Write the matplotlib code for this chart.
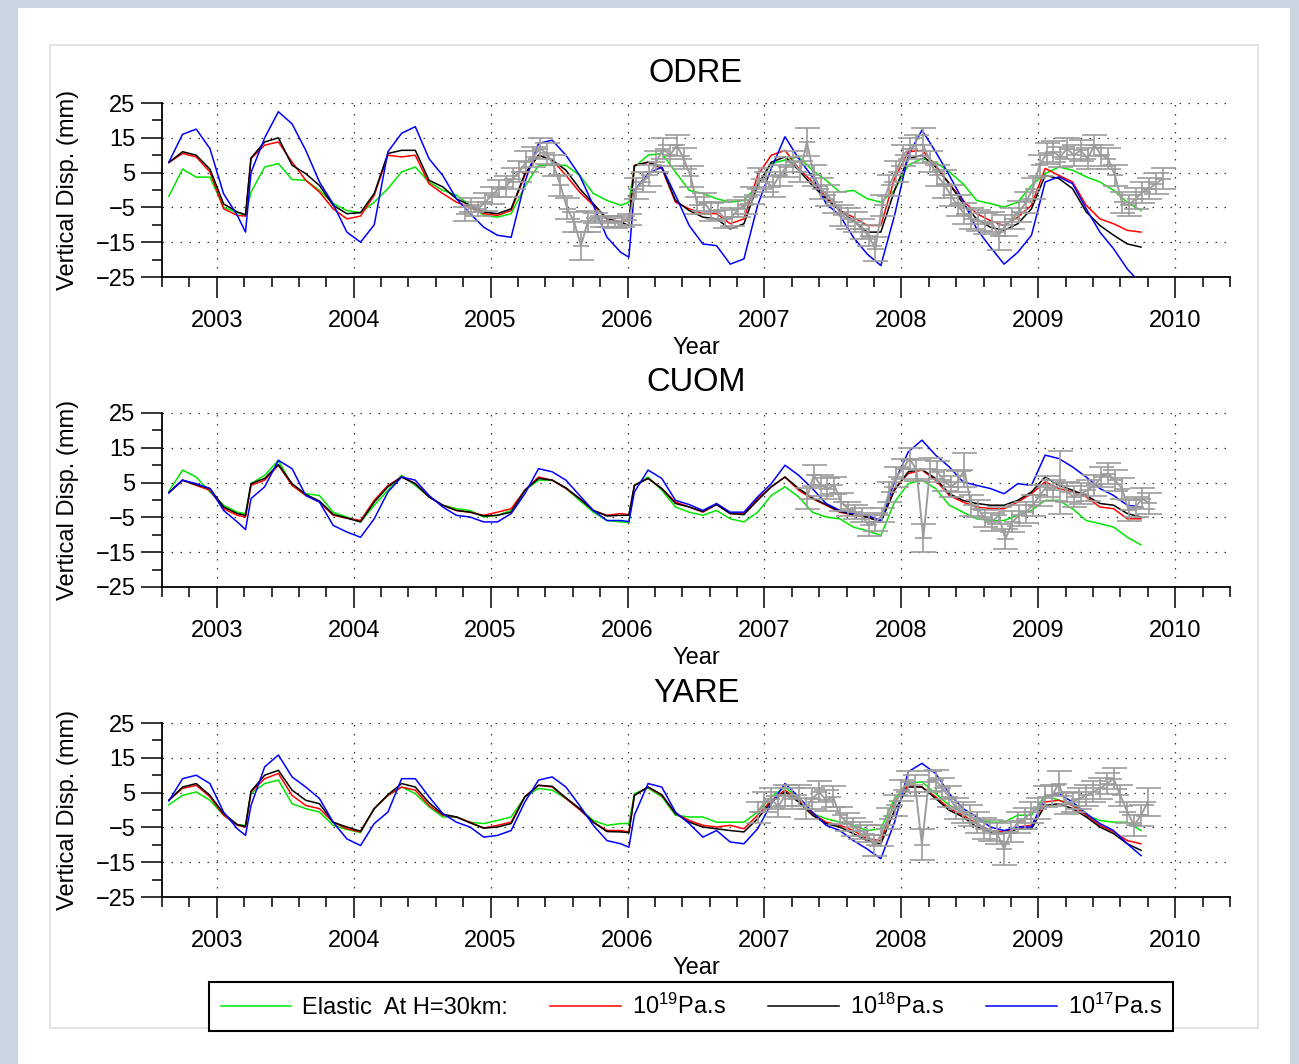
import numpy as np
import matplotlib
matplotlib.use('Agg')
import matplotlib.pyplot as plt
from matplotlib.ticker import MultipleLocator, FixedLocator
from matplotlib.patches import Rectangle

plt.rcParams['font.family'] = ['Liberation Sans', 'DejaVu Sans']
plt.rcParams['mathtext.fontset'] = 'custom'
plt.rcParams['mathtext.rm'] = 'Liberation Sans'
plt.rcParams['mathtext.it'] = 'Liberation Sans:italic'
plt.rcParams['mathtext.bf'] = 'Liberation Sans:bold'

# ---------------- data ----------------
t = [2002.65, 2002.75, 2002.85, 2002.95,
     2003.05, 2003.15, 2003.21, 2003.25, 2003.35, 2003.45, 2003.55, 2003.65, 2003.75, 2003.85, 2003.95,
     2004.05, 2004.15, 2004.25, 2004.35, 2004.45, 2004.55, 2004.65, 2004.75, 2004.85, 2004.95,
     2005.05, 2005.15, 2005.25, 2005.35, 2005.45, 2005.55, 2005.65, 2005.75, 2005.85, 2005.95,
     2006.01, 2006.05, 2006.15, 2006.25, 2006.35, 2006.45, 2006.55, 2006.65, 2006.75, 2006.85, 2006.95,
     2007.05, 2007.15, 2007.25, 2007.35, 2007.45, 2007.55, 2007.65, 2007.75, 2007.85, 2007.95,
     2008.05, 2008.15, 2008.25, 2008.35, 2008.45, 2008.55, 2008.65, 2008.75, 2008.85, 2008.95,
     2009.05, 2009.15, 2009.25, 2009.35, 2009.45, 2009.55, 2009.65, 2009.75]

stations = ['ODRE', 'CUOM', 'YARE']
legend_labels = ['Elastic  At H=30km:', r'10$^{19}$Pa.s', r'10$^{18}$Pa.s', r'10$^{17}$Pa.s']
years = [2003, 2004, 2005, 2006, 2007, 2008, 2009, 2010]
yticks = [-25, -15, -5, 5, 15, 25]

# ODRE
odre_elastic = [-1.8, 6, 3.7, 3.7,
                -5, -6.5, -7.3, -0.6, 6.6, 7.6, 3, 2.8, -0.1, -3.9, -5.9,
                -6.5, -3.5, 0.4, 5.2, 6.6, 2.3, -0.1, -1.5, -4.4, -7.3,
                -7.8, -6.8, 1, 7.1, 7.1, 7.1, 4.2, -1, -3, -4.4,
                -3.5, 6.6, 10, 10.5, 5.2, -0.1, -1, -2.5, -3.5, -3, 1.3,
                7.6, 8.6, 9.5, 5.7, 2.8, -0.6, -0.1, -2.5, -3.5, -0.1,
                7.1, 9, 8, 5.2, 1.8, -3, -3.9, -4.9, -3.5, 1.3,
                4.7, 6.6, 5.7, 3.8, 2.3, -0.1, -3.5, -5.9]
odre_e19 = [7.9, 10.5, 9.5, 5.2,
            -5.4, -7.3, -7.5, 9, 12.9, 13.8, 8, 2.8, -0.6, -5.4, -8.3,
            -7.5, -1.5, 10, 9.5, 10, 1.8, -1, -3.5, -4.9, -6.8,
            -7.3, -5.9, 4.2, 10, 8.6, 4.2, -0.6, -4.4, -8.3, -9.2,
            -8.8, 7.1, 8, 6.2, -3.5, -5.4, -6.8, -6.8, -9.7, -8.3, 4.2,
            10, 11.4, 6.2, 2.3, -2, -5.9, -7.8, -10.2, -10.2, 3.3,
            11, 11.4, 7.1, 1.8, -3, -6.8, -8.8, -10.2, -7.8, -4.4,
            6.2, 4.2, 2.3, -4.4, -8.3, -9.7, -11.6, -12.1]
odre_e18 = [7.9, 11, 10, 6,
            -4, -6.3, -7.1, 9.2, 13.8, 15, 7.1, 4.7, 1.3, -4.4, -6.8,
            -6.5, -1, 10.5, 11.4, 11.4, 2.8, 0.9, -2.5, -4.4, -6.3,
            -6.8, -5.4, 4.7, 10, 8.6, 5.7, 0.4, -3.9, -8.3, -9.2,
            -10.2, 7, 8, 6.6, -3, -5.9, -7.8, -8.3, -11.2, -9.7, 1.3,
            8, 9.5, 5.7, 1.3, -2.5, -5.9, -8.8, -12.1, -12.1, -0.1,
            9, 10, 6.6, 1.8, -3.9, -8.3, -10.7, -11.6, -9.7, -5.4,
            4.2, 3.3, 0.4, -6.3, -10.2, -13, -15.5, -16.4]
odre_e17 = [8, 16, 17.5, 11.9,
            -1.1, -7.3, -12.1, 5, 15, 22.5, 19, 11.4, 2.3, -4, -12.1,
            -15, -10, 11, 16.3, 18.2, 9, 4.2, -2.5, -6.8, -10.7,
            -13, -13.6, 2.3, 13.4, 14.3, 10, 4.2, -4.4, -13.6, -17.9,
            -19.3, 0, 4.7, 6.6, -1.5, -10.2, -15.5, -16, -21.3, -19.8, -4.4,
            6.2, 15.3, 9, 3.8, -3.9, -7.3, -13.6, -18.4, -21.7, -7.3,
            10, 17.2, 11, 4.2, -3, -11.2, -16.4, -21.3, -17.9, -13,
            2.3, 3.8, 1.8, -5.4, -12.1, -16.9, -22.7, -27]

# CUOM
cuom_elastic = [2.5, 8.6, 6.6, 2.3,
                -1.5, -3.5, -3.9, 4.7, 7.1, 11.4, 4.2, 1.8, 1.3, -3.5, -4.9,
                -6.3, -1.5, 2.8, 7.1, 4.2, 0.9, -1.5, -2.5, -3, -4.9,
                -4.4, -3, 2.8, 5.7, 5.7, 3.3, -0.1, -3.5, -5.9, -6.3,
                -6.5, 4.2, 6.6, 2.8, -2, -3.5, -4.4, -3, -5.4, -6.3, -3.5,
                1.3, 3.8, 0.9, -3.5, -4.9, -5.4, -7.8, -8.8, -10.2, -0.6,
                4.7, 5.7, 3.3, -1.5, -3.5, -5.4, -5.9, -5.9, -4.4, -3,
                -0.1, -0.1, -2.5, -5.9, -6.8, -7.8, -10.7, -12.9]
cuom_e19 = [2.1, 5.7, 4.2, 2.8,
            -2.5, -4.4, -4.9, 4.2, 5.7, 10, 4.2, 1.3, -0.6, -4.4, -5.2,
            -5.9, -0.1, 4.2, 6.6, 4.7, 0.9, -1.5, -3, -3.5, -4.4,
            -3.5, -2.5, 2.8, 6.6, 5.7, 3.3, 0.4, -3, -4.4, -3.9,
            -4.2, 4.2, 6.2, 3.3, -0.6, -2, -3.5, -1.3, -3.9, -3.9, 0.4,
            3.8, 6.6, 2.8, 0.4, -1.5, -3.5, -4.4, -4.9, -6.3, 3.3,
            7.6, 8.6, 5.7, 1.3, -0.6, -2, -2.5, -2.5, -0.6, 1.8,
            5.2, 3.3, 2.3, 0.9, -2, -2.5, -5.4, -5.4]
cuom_e18 = [2.1, 5.7, 4.4, 3.3,
            -2, -3.9, -4.4, 4.7, 6.2, 10.2, 4.7, 1.6, -0.3, -4.1, -5.2,
            -6.3, -0.6, 3.8, 6.6, 4.7, 0.9, -1.5, -3, -3.5, -4.6,
            -4.4, -3.5, 2.8, 6.2, 5.7, 3.5, 0.4, -3, -4.6, -4.4,
            -4.4, 4.2, 6.2, 3.3, -1, -2, -3.3, -1.3, -3.9, -4.2, -0.1,
            3.8, 6.6, 3.3, 0.6, -1.3, -3.3, -4.2, -4.9, -6.3, 2.8,
            8.1, 8.8, 6.2, 1.8, -0.1, -1, -1.5, -1.5, -0.1, 2.3,
            6.6, 4.2, 2.8, 1.3, -1, -1.5, -3.9, -4.9]
cuom_e17 = [2.1, 5.7, 4.7, 3.3,
            -3, -6.3, -8.5, 0.4, 3.8, 11.4, 9, 1.3, -0.6, -7.3, -9.2,
            -10.7, -5.4, 2.3, 6.6, 5.7, 1.3, -2, -4.4, -4.9, -6.3,
            -6.3, -3.9, 1.8, 9, 8.1, 5.7, 1.3, -3, -5.9, -5.9,
            -6.2, 2.3, 8.6, 6.2, -0.1, -1.3, -3, -1, -3.5, -3.5, 0.9,
            4.7, 10, 7.1, 3.3, -1, -3, -3.9, -4.4, -5.9, 5.2,
            13.8, 17.2, 12.9, 9.5, 5.2, 4.2, 3.3, 1.8, 4.7, 4.2,
            12.9, 11.9, 9.5, 6.6, 3.3, 1.3, -1.5, -2]

# YARE
yare_elastic = [1.5, 4.2, 5.2, 2.8,
                -1.5, -4.2, -4.4, 4.7, 7.6, 8.6, 1.8, 0.4, -0.6, -4.4, -5.6,
                -6.5, 0.4, 4.2, 6.6, 4.7, 0.9, -2, -2, -3.5, -3.9,
                -3, -2, 3.8, 6.2, 5.7, 3.3, 0.4, -3, -4.4, -3.9,
                -3.9, 4.7, 6.3, 3.8, -1.5, -2, -2, -3.5, -3.5, -3.5, -0.6,
                3.8, 6.6, 3.3, -1, -2.5, -3.5, -4.4, -5.9, -5.4, 3.3,
                7.6, 8.1, 4.7, 1.3, -0.6, -3, -3.5, -3.5, -1.5, -1.5,
                4.2, 2.8, 1.8, -1.5, -3, -3.5, -3.5, -5.9]
yare_e19 = [2.8, 6.2, 7.1, 3.8,
            -1.5, -4.4, -4.9, 5.2, 9, 10.5, 4.2, 1.3, 0.4, -3.5, -5.4,
            -6.3, 0.4, 4.2, 6.6, 5.7, 1.3, -1.5, -2, -3.5, -5.2,
            -4.4, -3.5, 3.8, 7.1, 6.6, 3.3, 0.1, -3.5, -5.9, -5.9,
            -6.3, 4.2, 6.6, 4.2, -1, -3, -4.4, -4.9, -4.4, -5.4, -1.5,
            2.8, 5.7, 2.8, -1, -3.5, -4.4, -5.9, -8.3, -8.8, 2.3,
            7.1, 6.6, 3.8, 0.4, -1.5, -3.9, -5.9, -6.3, -4.9, -4.4,
            2.3, 2.8, 1.3, -1.5, -4.4, -6.3, -8.8, -9.7]
yare_e18 = [2.8, 6.6, 7.6, 4.2,
            -1, -4.2, -4.7, 5.4, 10, 11.4, 5.7, 2.8, 1.8, -3.5, -4.9,
            -6.1, 0.4, 4.4, 7.6, 6.6, 2.1, -1.2, -2, -3.7, -5.2,
            -4.9, -3.9, 3.8, 7.1, 6.8, 3.5, 0.4, -3.5, -6.2, -6.3,
            -6.5, 4.2, 6.6, 4.4, -1, -3.5, -4.9, -5.4, -5.9, -6.3, -2.5,
            2.3, 5.2, 2.3, -1.5, -3.9, -4.9, -6.8, -8.8, -9.7, -0.1,
            6.6, 6.6, 3.3, -0.1, -2, -4.9, -6.3, -6.8, -5.4, -5.4,
            1.3, 1.8, 0.4, -2, -4.9, -6.8, -9.7, -11.6]
yare_e17 = [2.6, 9, 10, 7.6,
            -0.6, -5.4, -7.3, 1.3, 12.4, 15.8, 9.5, 6.6, 3.3, -3.5, -8.3,
            -10.2, -3.9, -0.6, 9, 9, 3.8, -1, -3.5, -4.9, -7.8,
            -7.3, -5.9, 2.3, 8.6, 9.5, 6.6, 1.3, -4.4, -8.8, -9.7,
            -10.7, -1.5, 7.6, 6.6, -0.6, -3.9, -7.8, -5.9, -9.2, -9.7, -5.4,
            1.8, 7.6, 3.8, -0.6, -4.4, -5.9, -8.8, -11.2, -14, -3.5,
            11, 13.4, 10.5, 4.7, 0.4, -2, -4.9, -5.9, -4.9, -4.9,
            3.8, 4.7, 2.3, -1, -3.9, -5.9, -9.7, -13.1]

# observed GPS (grey, with error bars)
odre_obs_t = [2004.81, 2004.86, 2004.91, 2004.96,
              2005.01, 2005.06, 2005.11, 2005.16, 2005.21, 2005.26, 2005.31, 2005.36, 2005.41, 2005.46,
              2005.51, 2005.56, 2005.61, 2005.66, 2005.71, 2005.76, 2005.81, 2005.86, 2005.91, 2005.96,
              2006.01, 2006.06, 2006.11, 2006.16, 2006.21, 2006.26, 2006.31, 2006.36, 2006.41, 2006.46,
              2006.51, 2006.56, 2006.61, 2006.66, 2006.71, 2006.76, 2006.81, 2006.86, 2006.91, 2006.96,
              2007.01, 2007.06, 2007.11, 2007.16, 2007.21, 2007.26, 2007.31, 2007.36, 2007.41, 2007.46,
              2007.51, 2007.56, 2007.61, 2007.66, 2007.71, 2007.76, 2007.81, 2007.86, 2007.91, 2007.96,
              2008.01, 2008.06, 2008.11, 2008.16, 2008.21, 2008.26, 2008.31, 2008.36, 2008.41, 2008.46,
              2008.51, 2008.56, 2008.61, 2008.66, 2008.71, 2008.76, 2008.81, 2008.86, 2008.91, 2008.96,
              2009.01, 2009.06, 2009.11, 2009.16, 2009.21, 2009.26, 2009.31, 2009.36, 2009.41, 2009.46,
              2009.51, 2009.56, 2009.61, 2009.66, 2009.71, 2009.76, 2009.81, 2009.86, 2009.91]
odre_obs = [-6.8, -4.4, -5.4, -3.5,
            -1.5, 0.4, 0.9, 3.3, 5.2, 8.1, 9.5, 11.9, 10.5, 7.1,
            1.3, -5.4, -9.2, -16, -9, -8, -9, -9, -9.5, -9,
            -8.5, 0.4, 2.3, 4.2, 8.1, 11.9, 10, 12.9, 9, 4,
            -4.4, -3.5, -6.3, -5.9, -8.3, -7.8, -5.4, -4.4, -1.5, 3.3,
            2.3, 0.9, 4.2, 6.6, 8.1, 5.2, 13.8, 4.2, 0.4, -1.5,
            -3.5, -7.3, -8.3, -9.2, -11.2, -13.1, -17, -4.4, 1.3, 5.2,
            10, 11.9, 12.9, 12.9, 8.1, 4.2, 1.8, -1.5, -4.4, -6.8,
            -8.3, -8.8, -9.7, -9.2, -13.1, -10.2, -8.3, -6.3, -3.5, 0.4,
            7.1, 10.5, 11, 9.5, 11.9, 10, 11.4, 9, 12.9, 10,
            9, 4.2, -3.5, -4.4, -2.5, -0.6, 0.4, 1.8, 3.3]
odre_obs_err = [2, 2, 2, 2.5,
                2.5, 2.5, 3, 3, 3, 3, 3, 3, 3, 3,
                3, 3, 3, 4, 3, 1.5, 1.5, 1.5, 1.5, 1.5,
                1.5, 3, 3, 3, 3, 3, 3, 3, 3, 3,
                2.5, 2.5, 2.5, 2.5, 2.5, 2.5, 2.5, 2.5, 2.5, 3,
                3, 3, 3, 3, 3, 3, 4, 3, 3, 3,
                3, 3, 3, 3, 3, 3, 3.5, 3, 3, 3,
                3, 3, 3, 5, 3, 3, 4, 3, 3, 3,
                3, 3, 3, 3, 4, 3, 3, 3, 3, 3,
                3, 3, 3, 3, 3, 3, 3, 3, 3, 3,
                3, 3, 3, 3, 3, 3, 3, 3, 3]

cuom_obs_t = [2007.31, 2007.36, 2007.41, 2007.46, 2007.51, 2007.56, 2007.61, 2007.66, 2007.71, 2007.76,
              2007.81, 2007.86, 2007.91, 2007.96,
              2008.01, 2008.06, 2008.11, 2008.16, 2008.21, 2008.26, 2008.31, 2008.36, 2008.41, 2008.46,
              2008.51, 2008.56, 2008.61, 2008.66, 2008.71, 2008.76, 2008.81, 2008.86, 2008.91, 2008.96,
              2009.01, 2009.06, 2009.11, 2009.16, 2009.21, 2009.26, 2009.31, 2009.36, 2009.41, 2009.46,
              2009.51, 2009.56, 2009.61, 2009.66, 2009.71, 2009.76, 2009.81]
cuom_obs = [0.4, 7.1, 4.2, 3.3, 4.2, -0.6, -2.5, -3.5, -4.4, -7.3,
            -6.3, -4.4, 2.3, 6.6,
            8.9, 11.9, 8.6, -11, 9, 8.1, 5.7, 3.8, 5.2, 8.6,
            -1.5, -2.5, -5.4, -6.3, -4.4, -11.2, -6.3, -4.4, -3.5, -1.5,
            1.3, 3.8, 2.8, 5, 2.3, 0.9, 1.8, 2.8, 4.2, 6.6,
            7.6, 5.7, 3.3, -3, -2, 0.4, -1]
cuom_obs_err = [3, 3, 3, 3, 2.5, 2.5, 2, 2, 2, 3,
                2.5, 2, 3, 3,
                3, 3, 3, 4, 3, 3, 3, 3, 3, 5,
                3, 2.5, 2.5, 2.5, 2.5, 3, 3, 3, 3, 3,
                3, 3, 3, 9, 3, 3, 3, 3, 3, 3,
                3, 3, 3, 3, 3, 3, 3]

yare_obs_t = [2006.95,
              2007.00, 2007.05, 2007.10, 2007.15, 2007.20, 2007.25, 2007.30, 2007.35, 2007.40, 2007.45,
              2007.50, 2007.55, 2007.60, 2007.65, 2007.70, 2007.75, 2007.80, 2007.85, 2007.90, 2007.95,
              2008.00, 2008.05, 2008.10, 2008.15, 2008.20, 2008.25, 2008.30, 2008.35, 2008.40, 2008.45,
              2008.50, 2008.55, 2008.60, 2008.65, 2008.70, 2008.75, 2008.80, 2008.85, 2008.90, 2008.95,
              2009.00, 2009.05, 2009.10, 2009.15, 2009.20, 2009.25, 2009.30, 2009.35, 2009.40, 2009.45,
              2009.50, 2009.55, 2009.60, 2009.65, 2009.70, 2009.75, 2009.80]
yare_obs = [-0.6,
            2.3, 3.3, 0.9, 4.2, 3.3, 4.2, 0.4, 3.3, 5.2, 2.8,
            3.8, -1.5, -3.5, -4.9, -5.9, -6.8, -10.2, -7.3, -2.5, 1.3,
            5.7, 8.1, 7.1, -10, 8.1, 8.6, 6.2, 3.8, 0.4, -0.6,
            -1.5, -3.5, -5.4, -5.9, -6.8, -11.2, -6.3, -3.5, -2.5, -0.6,
            0.4, 3.8, 4.2, 7.6, 1.8, 2.3, 3.3, 4.2, 5.2, 6.2,
            7.6, 9, 4.2, -0.6, -4.4, -1.5, 2.3]
yare_obs_err = [3,
                3, 3, 3, 3, 3, 3, 3, 3, 3, 3,
                3, 2.5, 2.5, 2.5, 2.5, 2.5, 3, 3, 3, 3,
                3, 3, 3, 4.5, 3, 3, 3, 3, 3, 3,
                3, 3, 3, 3, 3, 4.5, 3, 3, 3, 3,
                3, 3, 3, 3.5, 3, 3, 3, 3, 3, 3,
                3, 3, 3, 3, 3, 3, 4]

models = {
    'ODRE': (odre_elastic, odre_e19, odre_e18, odre_e17, odre_obs_t, odre_obs, odre_obs_err),
    'CUOM': (cuom_elastic, cuom_e19, cuom_e18, cuom_e17, cuom_obs_t, cuom_obs, cuom_obs_err),
    'YARE': (yare_elastic, yare_e19, yare_e18, yare_e17, yare_obs_t, yare_obs, yare_obs_err),
}

# ---------------- figure ----------------
W, H = 1299, 1064
fig = plt.figure(figsize=(W / 100, H / 100), dpi=100)
fig.patch.set_facecolor('#c9d6df')
fig.patches.append(Rectangle((18 / W, 0), 1272 / W, 1056 / H, transform=fig.transFigure,
                             facecolor='white', edgecolor='none', zorder=-10))
fig.patches.append(Rectangle((50 / W, 36 / H), 1208 / W, 983 / H, transform=fig.transFigure,
                             facecolor='white', edgecolor='#dedede', lw=1.2, zorder=-9))

colors = ['#00e600', '#ff0000', '#000000', '#0000ff']
grey = '#9c9c9c'
tops = [103, 413, 723]
handles = None
for name, top in zip(stations, tops):
    ax = fig.add_axes([162 / W, 1 - (top + 174) / H, 1068 / W, 174 / H])
    ax.set_facecolor('none')
    series = models[name]
    lines = []
    for vals, c in zip(series[:4], colors):
        ln, = ax.plot(t, vals, color=c, lw=1.1, zorder=3)
        lines.append(ln)
    handles = lines
    ot, ov, oe = series[4], series[5], series[6]
    ax.errorbar(ot, ov, yerr=oe, fmt='-', color=grey, ecolor=grey, lw=1.4,
                elinewidth=1.2, capsize=9, capthick=1.2, zorder=5)
    ax.errorbar(ot, ov, xerr=0.06, fmt='none', ecolor=grey, elinewidth=1.2,
                capsize=0, zorder=5)

    ax.set_xlim(2002.6, 2010.4)
    ax.set_ylim(-25, 25)
    ax.xaxis.set_major_locator(FixedLocator(years))
    ax.xaxis.set_minor_locator(MultipleLocator(0.2))
    ax.set_xticklabels([str(y) for y in years])
    ax.yaxis.set_major_locator(FixedLocator(yticks))
    ax.yaxis.set_minor_locator(MultipleLocator(5))
    ax.set_yticklabels(['\u2212%d' % -v if v < 0 else '%d' % v for v in yticks])
    ax.tick_params(axis='both', which='major', direction='out', length=15, width=1.1,
                   labelsize=17, color='black')
    ax.tick_params(axis='both', which='minor', direction='out', length=7.5, width=1.1)
    ax.tick_params(axis='x', which='major', pad=9)
    ax.tick_params(axis='y', which='major', pad=4)
    for s in ['top', 'right']:
        ax.spines[s].set_visible(False)
    for s in ['left', 'bottom']:
        ax.spines[s].set_linewidth(1.3)
    ax.grid(True, which='major', linestyle=(0, (1.2, 6)), color='#333333', lw=0.9)

    ax.set_xlabel('Year', fontsize=17)
    ax.xaxis.set_label_coords(0.5, -71 / 174)
    ax.xaxis.label.set_va('center')
    ax.set_ylabel('Vertical Disp. (mm)', fontsize=17)
    ax.yaxis.set_label_coords(-94 / 1068, 0.5)
    ax.yaxis.label.set_va('center')
    ax.text(0.5, 1 + 30 / 174, name, transform=ax.transAxes, ha='center', va='center',
            fontsize=23.5)

leg = fig.legend(handles, legend_labels, loc='upper center',
                 bbox_to_anchor=(691 / W, 1 - 982 / H), borderaxespad=0.0, ncol=4,
                 frameon=True, fancybox=False, edgecolor='black', framealpha=1, fontsize=17,
                 handlelength=3.0, handletextpad=0.45, columnspacing=1.8, borderpad=0.5)
leg.get_frame().set_linewidth(1.5)

fig.savefig('out.png', dpi=100, facecolor=fig.get_facecolor())
